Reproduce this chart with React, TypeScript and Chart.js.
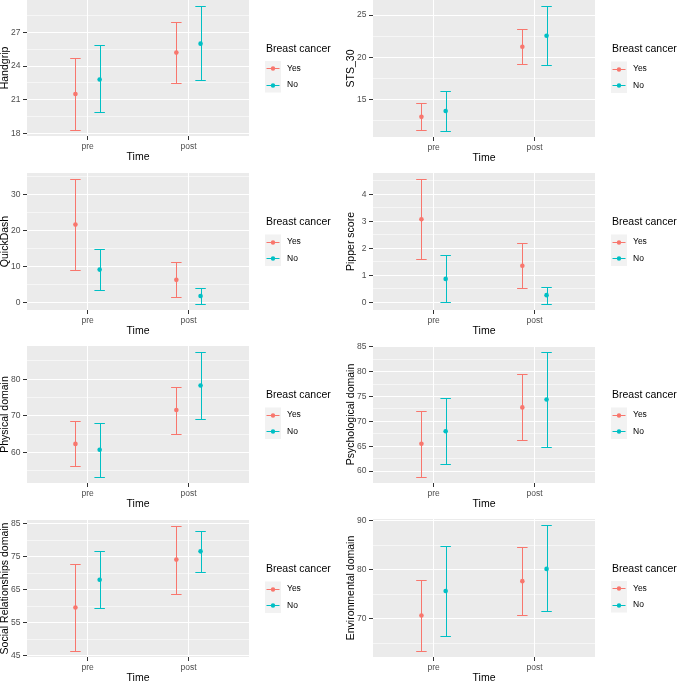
import React, { useEffect, useRef } from 'react';
import { Chart, registerables } from 'chart.js';

Chart.register(...registerables);

// ---- data ----
const categories = ['pre', 'post'];
const groupNames = ['Yes', 'No'];

// Each row: [mean, lower, upper]; first row is "pre", second "post"
const handgripYes = [[21.5, 18.3, 24.7], [25.2, 22.45, 27.9]];
const handgripNo = [[22.8, 19.85, 25.85], [26.0, 22.75, 29.35]];
const handgripTicks = [18, 21, 24, 27];

const sts30Yes = [[12.95, 11.35, 14.55], [21.25, 19.15, 23.4]];
const sts30No = [[13.65, 11.3, 16.0], [22.55, 19.05, 26.05]];
const sts30Ticks = [15, 20, 25];

const quickDashYes = [[21.7, 9.2, 34.3], [6.35, 1.45, 11.25]];
const quickDashNo = [[9.2, 3.5, 14.95], [1.85, -0.3, 3.95]];
const quickDashTicks = [0, 10, 20, 30];

const pipperYes = [[3.08, 1.61, 4.56], [1.36, 0.53, 2.19]];
const pipperNo = [[0.87, 0.03, 1.74], [0.27, -0.05, 0.57]];
const pipperTicks = [0, 1, 2, 3, 4];

const physicalYes = [[62.3, 56.2, 68.5], [71.6, 65.1, 78.0]];
const physicalNo = [[60.7, 53.3, 68.1], [78.3, 69.0, 87.4]];
const physicalTicks = [60, 70, 80];

const psychologicalYes = [[65.5, 58.85, 72.1], [72.8, 66.2, 79.45]];
const psychologicalNo = [[68.0, 61.4, 74.6], [74.4, 64.9, 83.9]];
const psychologicalTicks = [60, 65, 70, 75, 80, 85];

const socialYes = [[59.6, 46.5, 72.7], [74.1, 63.8, 84.2]];
const socialNo = [[68.0, 59.5, 76.8], [76.6, 70.3, 82.9]];
const socialTicks = [45, 55, 65, 75, 85];

const environmentalYes = [[70.7, 63.5, 78.0], [77.7, 70.7, 84.6]];
const environmentalNo = [[75.7, 66.5, 84.9], [80.2, 71.6, 89.1]];
const environmentalTicks = [70, 80, 90];

// ---- styling ----
const groupColors = ['#F8766D', '#00BFC4'];
const dodge = [-0.12, 0.12];
const WHISKER = 0.052;
const FONT = '"Liberation Sans", Arial, Helvetica, sans-serif';
const Y_AXIS_W = 34;
const X_AXIS_H = 34;
const PAD_TOP = 8;
const PAD_RIGHT = 100;

type Row = number[];
interface PanelSpec {
  title: string;
  yes: Row[];
  no: Row[];
  ticks: number[];
  left: number;
  top: number;
  width: number;
  height: number;
}

const panels: PanelSpec[] = [
  { title: 'Handgrip', yes: handgripYes, no: handgripNo, ticks: handgripTicks, left: 27, top: 0, width: 222, height: 136 },
  { title: 'STS_30', yes: sts30Yes, no: sts30No, ticks: sts30Ticks, left: 373, top: 0, width: 222, height: 137 },
  { title: 'QuickDash', yes: quickDashYes, no: quickDashNo, ticks: quickDashTicks, left: 27, top: 173, width: 222, height: 137 },
  { title: 'Pipper score', yes: pipperYes, no: pipperNo, ticks: pipperTicks, left: 373, top: 173, width: 222, height: 137 },
  { title: 'Physical domain', yes: physicalYes, no: physicalNo, ticks: physicalTicks, left: 27, top: 346, width: 222, height: 137 },
  { title: 'Psychological domain', yes: psychologicalYes, no: psychologicalNo, ticks: psychologicalTicks, left: 373, top: 346, width: 222, height: 137 },
  { title: 'Social Relationships domain', yes: socialYes, no: socialNo, ticks: socialTicks, left: 27, top: 520, width: 222, height: 137 },
  { title: 'Environmental domain', yes: environmentalYes, no: environmentalNo, ticks: environmentalTicks, left: 373, top: 519, width: 222, height: 138 },
];

function buildConfig(p: PanelSpec): any {
  const series = [p.yes, p.no];
  const all = [...p.yes, ...p.no];
  const lo = Math.min(...all.map((r) => r[1]));
  const hi = Math.max(...all.map((r) => r[2]));
  const expand = (hi - lo) * 0.05;
  const yMin = lo - expand;
  const yMax = hi + expand;

  const step = p.ticks[1] - p.ticks[0];
  const minor: number[] = [];
  const candidates = [p.ticks[0] - step / 2, ...p.ticks.map((t) => t + step / 2)];
  candidates.forEach((v) => {
    if (v > yMin && v < yMax) minor.push(v);
  });
  const majorSet = new Set(p.ticks);
  const yTickValues = [...p.ticks, ...minor].sort((a, b) => a - b);

  const background = {
    id: 'panelBackground',
    beforeDraw(chart: any) {
      const { ctx, chartArea } = chart;
      ctx.save();
      ctx.fillStyle = '#EBEBEB';
      ctx.fillRect(chartArea.left, chartArea.top, chartArea.right - chartArea.left, chartArea.bottom - chartArea.top);
      ctx.restore();
    },
  };

  const errorBars = {
    id: 'errorBars',
    beforeDatasetsDraw(chart: any) {
      const { ctx } = chart;
      const x = chart.scales.x;
      const y = chart.scales.y;
      ctx.save();
      ctx.lineWidth = 1;
      series.forEach((s, gi) => {
        ctx.strokeStyle = groupColors[gi];
        s.forEach((r, ti) => {
          const cx = ti + 1 + dodge[gi];
          const px = Math.round(x.getPixelForValue(cx)) + 0.5;
          const xl = x.getPixelForValue(cx - WHISKER);
          const xr = x.getPixelForValue(cx + WHISKER);
          const yl = Math.round(y.getPixelForValue(r[1])) + 0.5;
          const yh = Math.round(y.getPixelForValue(r[2])) + 0.5;
          ctx.beginPath();
          ctx.moveTo(px, yl);
          ctx.lineTo(px, yh);
          ctx.moveTo(xl, yl);
          ctx.lineTo(xr, yl);
          ctx.moveTo(xl, yh);
          ctx.lineTo(xr, yh);
          ctx.stroke();
        });
      });
      ctx.restore();
    },
  };

  const legendBox = {
    id: 'groupLegend',
    afterDraw(chart: any) {
      const { ctx, chartArea } = chart;
      const x0 = chartArea.right + 16;
      const cy = (chartArea.top + chartArea.bottom) / 2;
      const rows = [cy, cy + 16.5];
      ctx.save();
      ctx.textBaseline = 'middle';
      ctx.textAlign = 'left';
      ctx.fillStyle = '#000000';
      ctx.font = `10.5px ${FONT}`;
      ctx.fillText('Breast cancer', x0 + 1, cy - 19);
      ctx.fillStyle = '#F2F2F2';
      ctx.fillRect(x0, rows[0] - 7, 16, rows[1] - rows[0] + 15);
      rows.forEach((ry, gi) => {
        ctx.strokeStyle = groupColors[gi];
        ctx.lineWidth = 1;
        ctx.beginPath();
        ctx.moveTo(x0 + 1.5, Math.round(ry) + 0.5);
        ctx.lineTo(x0 + 14.5, Math.round(ry) + 0.5);
        ctx.stroke();
        ctx.fillStyle = groupColors[gi];
        ctx.beginPath();
        ctx.arc(x0 + 8, Math.round(ry) + 0.5, 2.2, 0, Math.PI * 2);
        ctx.fill();
        ctx.fillStyle = '#000000';
        ctx.font = `8.5px ${FONT}`;
        ctx.fillText(groupNames[gi], x0 + 22, ry + 0.5);
      });
      ctx.restore();
    },
  };

  return {
    type: 'scatter',
    data: {
      datasets: series.map((s, gi) => ({
        label: groupNames[gi],
        data: s.map((r, ti) => ({ x: ti + 1 + dodge[gi], y: r[0] })),
        backgroundColor: groupColors[gi],
        borderColor: groupColors[gi],
        pointRadius: 2.3,
        pointBorderWidth: 0,
        pointHoverRadius: 2.3,
        showLine: false,
      })),
    },
    options: {
      animation: false,
      responsive: false,
      devicePixelRatio: 1,
      events: [],
      layout: { padding: { left: 0, top: PAD_TOP, right: PAD_RIGHT, bottom: 0 } },
      plugins: { legend: { display: false }, tooltip: { enabled: false } },
      scales: {
        x: {
          type: 'linear',
          min: 0.4,
          max: 2.6,
          border: { display: false },
          afterBuildTicks: (scale: any) => {
            scale.ticks = categories.map((_, i) => ({ value: i + 1 }));
          },
          afterFit: (scale: any) => {
            scale.height = X_AXIS_H;
            scale.paddingLeft = 0;
            scale.paddingRight = 0;
            scale.paddingTop = 0;
            scale.paddingBottom = 0;
          },
          grid: {
            color: '#FFFFFF',
            lineWidth: 1,
            tickColor: '#333333',
            tickLength: 4,
            tickWidth: 1,
          },
          ticks: {
            autoSkip: false,
            maxRotation: 0,
            padding: 1.5,
            color: '#4D4D4D',
            font: { family: FONT, size: 8.5 },
            callback: (v: any) => categories[Math.round(Number(v)) - 1] ?? '',
          },
          title: {
            display: true,
            text: 'Time',
            color: '#000000',
            font: { family: FONT, size: 10.5 },
            padding: { top: 0, bottom: 6.7 },
          },
        },
        y: {
          type: 'linear',
          min: yMin,
          max: yMax,
          border: { display: false },
          afterBuildTicks: (scale: any) => {
            scale.ticks = yTickValues.map((v) => ({ value: v }));
          },
          afterFit: (scale: any) => {
            scale.width = Y_AXIS_W;
            scale.paddingLeft = 0;
            scale.paddingRight = 0;
            scale.paddingTop = 0;
            scale.paddingBottom = 0;
          },
          grid: {
            color: '#FFFFFF',
            lineWidth: (c: any) => (c.tick && majorSet.has(c.tick.value) ? 1 : 0.55),
            tickColor: (c: any) => (c.tick && majorSet.has(c.tick.value) ? '#333333' : 'rgba(0,0,0,0)'),
            tickLength: 4,
            tickWidth: 1,
          },
          ticks: {
            autoSkip: false,
            padding: 2.5,
            color: '#4D4D4D',
            font: { family: FONT, size: 8.5 },
            callback: (v: any) => (majorSet.has(Number(v)) ? String(v) : ''),
          },
          title: {
            display: true,
            text: p.title,
            color: '#000000',
            font: { family: FONT, size: 10.5 },
            padding: { top: 6.2, bottom: 0 },
          },
        },
      },
    },
    plugins: [background, errorBars, legendBox],
  };
}

function Panel({ spec }: { spec: PanelSpec }) {
  const ref = useRef<HTMLCanvasElement | null>(null);
  const w = Y_AXIS_W + spec.width + PAD_RIGHT;
  const h = PAD_TOP + spec.height + X_AXIS_H;

  useEffect(() => {
    const canvas = ref.current;
    if (!canvas) return;
    const chart = new Chart(canvas, buildConfig(spec));
    return () => chart.destroy();
  }, [spec]);

  return (
    <canvas
      ref={ref}
      width={w}
      height={h}
      style={{
        position: 'absolute',
        left: spec.left - Y_AXIS_W,
        top: spec.top - PAD_TOP,
        width: w,
        height: h,
      }}
    />
  );
}

export default function App() {
  return (
    <div
      style={{
        position: 'absolute',
        left: 0,
        top: 0,
        width: 677,
        height: 681,
        overflow: 'hidden',
        background: '#FFFFFF',
      }}
    >
      {panels.map((p) => (
        <Panel key={p.title} spec={p} />
      ))}
    </div>
  );
}
